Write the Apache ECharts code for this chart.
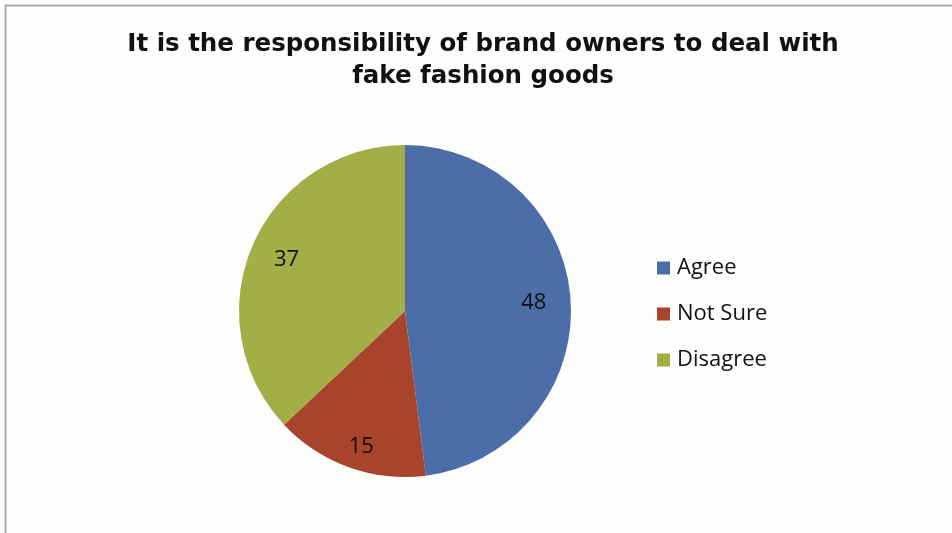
<!DOCTYPE html>
<html>
<head>
<meta charset="utf-8">
<script src="https://cdn.jsdelivr.net/npm/echarts@6/dist/echarts.min.js"></script>
<style>
  html, body { margin: 0; padding: 0; background: #fdfdfc; }
  #chart { width: 952px; height: 533px; }
</style>
</head>
<body>
<div id="chart"></div>
<script>
// Survey responses
const categories = ['Agree', 'Not Sure', 'Disagree'];
const values = [48, 15, 37];
const colors = ['#4B6EA9', '#A8442C', '#A4AE46'];
const titleText = 'It is the responsibility of brand owners to deal with\nfake fashion goods';

const chart = echarts.init(document.getElementById('chart'));

const pieData = categories.map((name, i) => ({
  name,
  value: values[i],
  itemStyle: { color: colors[i] }
}));

// Label ring: same data, transparent, so the value labels sit further out
const labelData = categories.map((name, i) => ({
  name,
  value: values[i],
  itemStyle: { color: 'rgba(0,0,0,0)' },
  label: i === 1 ? { offset: [0, 14] } : {}
}));

chart.setOption({
  backgroundColor: '#fdfdfc',
  animation: false,
  graphic: [{
    type: 'polyline',
    shape: { points: [[5.5, 540], [5.5, 5.5], [960, 5.5]] },
    style: { stroke: '#a9a9a6', lineWidth: 2, fill: null },
    silent: true
  }],
  title: {
    text: titleText,
    left: 478,
    top: 24,
    textAlign: 'center',
    textStyle: {
      fontFamily: 'DejaVu Sans, sans-serif',
      fontWeight: 'bold',
      fontSize: 24.5,
      lineHeight: 32,
      color: '#111'
    }
  },
  legend: {
    orient: 'vertical',
    left: 652,
    top: 252,
    itemWidth: 13,
    itemHeight: 13,
    itemGap: 24,
    icon: 'rect',
    data: categories.map((name, i) => ({ name, itemStyle: { color: colors[i] } })),
    textStyle: {
      fontFamily: 'Open Sans, sans-serif',
      fontSize: 22,
      lineHeight: 22,
      color: '#111',
      padding: [0, 0, 0, 2]
    }
  },
  series: [
    {
      type: 'pie',
      center: [405, 311],
      radius: 166,
      startAngle: 90,
      clockwise: true,
      label: { show: false },
      labelLine: { show: false },
      silent: true,
      data: pieData
    },
    {
      type: 'pie',
      center: [405, 311],
      radius: [86, 166],
      startAngle: 90,
      clockwise: true,
      silent: true,
      label: {
        show: true,
        position: 'inside',
        formatter: '{c}',
        fontFamily: 'Open Sans, sans-serif',
        fontSize: 22,
        color: '#111'
      },
      labelLine: { show: false },
      data: labelData
    }
  ]
});
</script>
</body>
</html>
